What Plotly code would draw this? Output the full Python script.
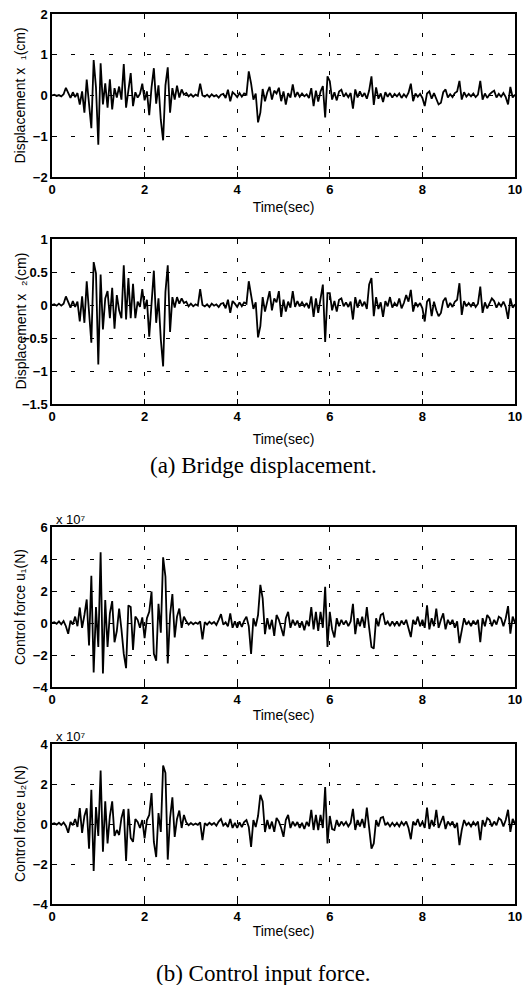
import plotly.graph_objects as go

# time samples (s), 0.05 s step
time_s = [round(i * 0.05, 2) for i in range(201)]

# bridge displacement x1 (cm)
disp_x1 = [
    0.00, 0.02, -0.01, 0.01, -0.02, 0.03, 0.19, 0.05, -0.06, 0.08, -0.04, 0.06, -0.22, 0.10, -0.42, 0.39, -0.15, -0.80, 0.87, 0.20,
    -1.21, 0.79, -0.22, 0.30, -0.30, 0.40, -0.34, 0.18, -0.05, 0.22, -0.10, 0.77, -0.30, 0.20, 0.55, -0.26, 0.08, -0.05, 0.04, 0.29,
    -0.12, 0.10, -0.48, 0.20, 0.67, -0.20, 0.25, -0.60, -1.10, 0.25, 0.69, -0.42, 0.18, -0.10, 0.24, -0.05, 0.15, 0.02, 0.06, -0.02,
    0.03, -0.03, 0.02, -0.01, 0.29, 0.00, -0.03, 0.02, -0.04, 0.03, -0.02, 0.01, -0.05, 0.02, 0.04, -0.06, 0.14, -0.14, 0.08, 0.03,
    -0.04, 0.06, -0.03, 0.05, 0.02, 0.59, 0.30, -0.10, 0.05, -0.66, -0.42, 0.16, -0.14, 0.08, 0.21, -0.10, 0.12, 0.05, 0.19, -0.14,
    0.10, -0.22, 0.06, -0.05, 0.27, -0.04, 0.08, -0.03, 0.05, -0.02, 0.03, -0.06, 0.18, -0.26, 0.12, -0.15, 0.10, 0.23, -0.54, 0.47,
    0.35, -0.10, 0.08, -0.12, 0.10, 0.14, -0.03, 0.05, -0.04, 0.06, -0.32, 0.15, -0.05, 0.10, -0.03, 0.06, -0.08, 0.12, 0.47, -0.23,
    0.20, -0.08, 0.05, -0.16, 0.08, -0.03, 0.06, -0.05, 0.04, -0.02, 0.05, -0.06, 0.03, -0.04, 0.07, 0.29, -0.14, 0.05, -0.03, 0.04,
    -0.06, -0.26, 0.05, 0.10, -0.08, 0.06, -0.10, -0.22, -0.18, 0.08, 0.15, -0.05, 0.03, -0.04, 0.06, 0.10, 0.36, -0.10, 0.08, -0.03,
    0.04, -0.02, 0.05, -0.04, 0.02, 0.36, -0.10, 0.05, -0.06, 0.03, 0.08, 0.12, -0.05, 0.04, -0.03, 0.06, -0.04, -0.22, 0.21, -0.05,
    0.02,
]

# bridge displacement x2 (cm)
disp_x2 = [
    0.00, 0.01, -0.01, 0.02, -0.01, 0.02, 0.13, 0.04, -0.04, 0.06, -0.03, 0.05, -0.25, 0.13, -0.27, 0.36, -0.12, -0.57, 0.65, 0.48,
    -0.90, 0.46, -0.37, 0.10, 0.21, -0.20, 0.26, -0.36, 0.15, -0.08, -0.20, 0.60, -0.22, 0.41, -0.20, 0.32, -0.20, 0.05, -0.03, 0.24,
    -0.06, 0.08, -0.48, 0.08, 0.52, -0.27, 0.10, -0.52, -0.93, 0.20, 0.60, -0.41, 0.12, -0.04, 0.12, 0.02, 0.10, 0.03, 0.05, -0.02,
    0.02, -0.02, 0.01, -0.01, 0.24, 0.00, -0.02, 0.01, -0.03, 0.02, -0.01, 0.01, -0.03, 0.02, 0.03, -0.05, 0.08, -0.12, 0.06, 0.02,
    -0.03, 0.04, -0.02, 0.04, 0.02, 0.36, 0.15, -0.06, 0.04, -0.49, -0.32, 0.12, -0.10, 0.06, 0.21, -0.08, 0.10, 0.04, 0.21, -0.18,
    0.08, -0.10, 0.05, -0.04, 0.21, -0.03, 0.06, -0.02, 0.04, -0.02, 0.03, -0.05, 0.13, -0.18, 0.10, -0.12, 0.08, 0.31, -0.56, 0.18,
    0.18, -0.08, 0.06, -0.10, 0.08, 0.10, -0.02, 0.04, -0.03, 0.05, -0.22, 0.12, -0.04, 0.08, -0.02, 0.05, -0.06, 0.31, 0.41, -0.17,
    0.12, -0.06, 0.04, -0.18, 0.06, -0.02, 0.12, -0.04, 0.03, -0.02, 0.10, -0.05, 0.03, 0.15, 0.05, 0.23, -0.10, 0.04, -0.02, 0.03,
    -0.05, -0.25, 0.05, 0.10, -0.17, 0.05, -0.08, -0.17, -0.12, 0.06, 0.11, -0.04, 0.03, -0.03, 0.05, 0.08, 0.33, -0.15, 0.06, -0.02,
    0.03, -0.02, 0.04, -0.03, 0.02, 0.28, -0.12, 0.04, -0.05, 0.02, 0.10, 0.06, -0.04, 0.03, -0.02, 0.05, -0.03, -0.21, 0.10, -0.04,
    0.01,
]

# control force u1 (units of 1e7 N)
force_u1 = [
    0.00, 0.05, -0.05, 0.10, -0.08, 0.12, -0.20, -0.67, 0.15, -0.10, 0.40, -0.20, 0.97, -0.30, 0.50, 1.47, -1.41, 2.95, -3.09, 1.00,
    -1.50, 4.42, -3.16, 1.43, -1.50, 0.60, 1.37, -1.20, -0.50, 0.90, -0.40, -1.93, -2.82, 1.10, 1.00, -1.68, 0.40, 0.20, -0.30, 0.35,
    -0.95, 0.30, 0.70, 1.96, -1.93, -2.36, 1.20, -0.60, 4.10, 2.90, -2.53, 0.50, 1.81, -0.90, 0.40, 0.90, -0.30, 0.40, 0.10, -0.10,
    0.05, -0.08, 0.03, -0.05, 0.10, -1.03, 0.05, -0.10, 0.08, -0.05, 0.06, -0.12, 0.20, 0.55, -0.10, 0.05, -0.20, 0.60, -0.30, 0.10,
    -0.30, 0.10, -0.25, 0.15, 0.40, -0.20, -1.94, 0.30, -0.20, 0.50, 2.38, 1.54, -0.70, 0.30, -0.40, 0.20, -0.80, 0.50, 0.20, -0.30,
    -0.82, 0.30, 0.70, -0.30, 0.20, -0.15, 0.15, -0.30, 0.10, -0.45, 0.15, -0.20, 1.00, -0.40, 0.70, -0.50, 0.70, -0.30, 2.27, -1.50,
    0.70, -0.40, -0.90, 0.30, -0.20, 0.20, -0.10, 0.15, -0.20, 0.10, 1.20, -0.70, 0.30, -0.20, 0.40, -0.30, 1.00, -0.30, -1.50, -1.60,
    0.30, -0.20, 0.50, 0.60, -0.10, 0.10, -0.20, 0.10, -0.15, 0.10, -0.20, 0.15, -0.10, 0.20, -0.30, -0.88, 0.20, -0.10, 0.40, -0.20,
    0.20, -0.30, 1.10, -0.40, 0.30, -0.20, 0.90, -0.30, 0.20, 0.60, -0.40, 0.20, -0.10, 0.20, -0.30, 0.10, -1.26, -0.40, 0.30, -0.10,
    0.10, -0.20, 0.15, -0.10, 0.20, -1.20, 0.30, -0.20, 0.50, 0.30, -0.20, 0.20, -0.10, 0.40, 0.30, -0.20, 0.30, 1.05, -0.67, 0.40,
    0.00,
]

# control force u2 (units of 1e7 N)
force_u2 = [
    0.00, 0.04, -0.03, 0.06, -0.05, 0.08, -0.10, -0.44, 0.10, -0.06, 0.25, -0.15, 0.79, -0.45, 0.40, 0.79, -1.23, 1.71, -2.35, 0.85,
    -0.60, 2.67, -1.39, 1.13, -0.97, 0.40, 1.13, -0.60, -0.30, -0.55, 0.30, 0.74, -1.85, 0.76, -0.70, -0.89, 0.25, 0.10, -0.20, 0.20,
    -0.72, 0.20, 0.45, 1.55, -0.90, -1.65, 0.55, -0.40, 2.92, 2.55, -1.78, 0.30, 1.33, -0.65, 0.25, 0.67, -0.20, 0.45, 0.08, -0.06,
    0.04, -0.05, 0.02, -0.04, 0.08, -0.81, 0.04, -0.06, 0.06, -0.04, 0.05, -0.08, 0.12, 0.25, -0.08, 0.04, -0.15, 0.25, -0.20, 0.06,
    -0.20, 0.08, -0.15, 0.10, 0.20, -0.15, -1.14, 0.20, -0.15, 0.40, 1.46, 1.13, -0.40, 0.20, -0.25, 0.12, -0.39, 0.30, 0.12, -0.20,
    -0.64, 0.20, 0.45, -0.20, 0.12, -0.10, 0.10, -0.20, 0.06, -0.25, 0.10, -0.12, 0.71, -0.30, 0.45, -0.30, 0.45, -0.20, 1.85, -0.97,
    0.40, -0.25, -0.30, 0.20, -0.12, 0.12, -0.06, 0.10, -0.12, 0.06, 0.76, -0.30, 0.20, -0.12, 0.25, -0.20, 0.82, -0.20, -1.23, -0.97,
    0.20, -0.12, 0.30, 0.35, -0.06, 0.06, -0.12, 0.06, -0.10, 0.06, -0.12, 0.10, -0.06, 0.12, -0.20, -0.76, 0.12, -0.06, 0.25, -0.12,
    0.12, -0.20, 0.82, -0.25, 0.20, -0.12, 0.71, -0.20, 0.12, 0.40, -0.25, 0.12, -0.06, 0.12, -0.20, 0.06, -1.06, -0.30, 0.20, -0.06,
    0.06, -0.12, 0.10, -0.06, 0.12, -0.81, 0.20, -0.12, 0.30, 0.20, -0.12, 0.12, -0.06, 0.30, 0.20, -0.12, 0.20, 0.71, -0.39, 0.25,
    0.00,
]

x_ticks = [0, 2, 4, 6, 8, 10]
y_ticks_1 = [-2, -1, 0, 1, 2]
y_ticks_2 = [-1.5, -1, -0.5, 0, 0.5, 1]
y_ticks_3 = [-4, -2, 0, 2, 4, 6]
y_ticks_4 = [-4, -2, 0, 2, 4]

W, H = 528, 985
X0, X1 = 52, 515
panels = [  # (top px, bottom px)
    (14, 177),
    (239, 404),
    (527, 687),
    (744, 904),
]
series = [disp_x1, disp_x2, force_u1, force_u2]
yranges = [(-2, 2), (-1.5, 1), (-4, 6), (-4, 4)]
yticks = [y_ticks_1, y_ticks_2, y_ticks_3, y_ticks_4]
ytitles = [
    "Displacement x  \u2081(cm)",
    "Displacement x  \u2082(cm)",
    "Control force u\u2081(N)",
    "Control force u\u2082(N)",
]
xtitle_standoff = [6, 11, 4, 3]

def px(xp):
    return xp / W

def py(yp):
    return 1 - yp / H

fig = go.Figure()
sans = "Liberation Sans, Arial"
tickfont = dict(family=sans, size=13, color="black", weight="bold")
layout = dict(
    width=W, height=H, margin=dict(l=0, r=0, t=0, b=0, autoexpand=False),
    paper_bgcolor="white", plot_bgcolor="white", showlegend=False,
)
annotations = []
for i, (top, bot) in enumerate(panels):
    k = "" if i == 0 else str(i + 1)
    fig.add_trace(go.Scatter(
        x=time_s, y=series[i], mode="lines",
        line=dict(color="black", width=1.8),
        xaxis="x" + k, yaxis="y" + k,
    ))
    layout["xaxis" + k] = dict(
        domain=[px(X0), px(X1)], anchor="y" + k, range=[0, 10],
        tickvals=x_ticks, ticks="inside", ticklen=5, tickcolor="black",
        showline=True, linecolor="black", linewidth=1.5, mirror="ticks",
        showgrid=True, gridcolor="black", gridwidth=1, griddash="4px,15px",
        zeroline=False, tickfont=tickfont,
        title=dict(text="Time(sec)", standoff=xtitle_standoff[i],
                   font=dict(family=sans, size=14, color="black")),
        automargin=False,
    )
    layout["yaxis" + k] = dict(
        domain=[py(bot), py(top)], anchor="x" + k, range=list(yranges[i]),
        tickvals=yticks[i], ticks="inside", ticklen=5, tickcolor="black",
        showline=True, linecolor="black", linewidth=1.5, mirror="ticks",
        showgrid=True, gridcolor="black", gridwidth=1, griddash="4px,15px",
        zeroline=False, tickfont=tickfont, automargin=False,
    )
    # y-axis title (fixed horizontal position, as in the reference)
    annotations.append(dict(
        text=ytitles[i], xref="paper", yref="paper", textangle=-90,
        x=px(20), y=py((top + bot) / 2), xanchor="center", yanchor="middle",
        showarrow=False, font=dict(family=sans, size=14, color="black"),
    ))

# scale factor labels
for top in (panels[2][0], panels[3][0]):
    annotations.append(dict(
        text="x 10\u2077", xref="paper", yref="paper",
        x=px(54), y=py(top - 8), xanchor="left", yanchor="middle",
        showarrow=False, font=dict(family=sans, size=13, color="black"),
    ))

# captions
serif = "Liberation Serif, Times New Roman"
annotations.append(dict(
    text="(a) Bridge displacement.", xref="paper", yref="paper",
    x=px(263), y=py(465), xanchor="center", yanchor="middle", showarrow=False,
    font=dict(family=serif, size=23, color="black"),
))
annotations.append(dict(
    text="(b) Control input force.", xref="paper", yref="paper",
    x=px(263), y=py(973), xanchor="center", yanchor="middle", showarrow=False,
    font=dict(family=serif, size=23, color="black"),
))
layout["annotations"] = annotations
fig.update_layout(**layout)
fig.write_html("out.html")
